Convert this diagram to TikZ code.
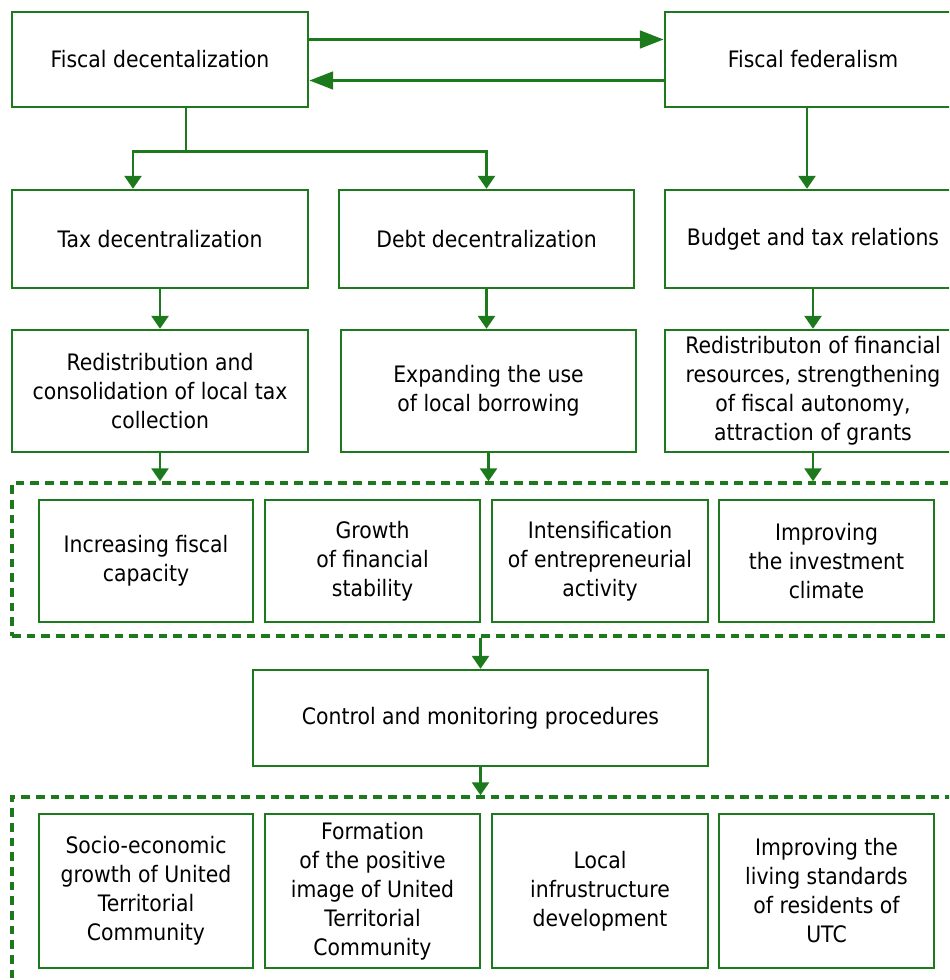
\documentclass[tikz,border=0pt]{standalone}
\usepackage{fontspec}
\setmainfont{DejaVu Sans}[FakeStretch=0.9]
\usetikzlibrary{arrows.meta,calc}
\definecolor{gr}{RGB}{28,122,28}
\tikzset{
 box/.style={draw=gr, line width=1.8pt, fill=white, align=center, inner sep=0pt, font=\fontsize{17}{21.75}\selectfont, text=black},
 dbox/.style={draw=gr, line width=2.6pt, dash pattern=on 6.5pt off 4.5pt, inner sep=0pt},
 ln/.style={draw=gr, line width=2.1pt},
 arr/.style={ln, -{Triangle[length=9.75pt,width=12.75pt]}},
 harr/.style={draw=gr, line width=2.8pt, -{Triangle[length=18pt,width=13pt]}},
}
\newcommand{\bx}[7][box]{\node[#1, minimum width={(#5-#3)*0.75pt}, minimum height={(#6-#4)*0.75pt}] (#2) at ({(#3+#5)/2},{(#4+#6)/2}) {#7};}
\begin{document}
\begin{tikzpicture}[x=0.75pt,y=-0.75pt]
\useasboundingbox (0,0) rectangle (949,980);
\clip (0,0) rectangle (949,980);
% top row
\bx{fd}{12}{12}{308}{107}{Fiscal decentalization}
\bx{ff}{665}{12}{961}{107}{Fiscal federalism}
% second row
\bx{td}{12}{190}{308}{288}{Tax decentralization}
\bx{dd}{339}{190}{634}{288}{Debt decentralization}
\bx{bt}{665}{190}{961}{288}{Budget and tax relations}
% third row
\bx{ra}{12}{330}{308}{452}{Redistribution and\\consolidation of local tax\\collection}
\bx{rb}{341}{330}{636}{452}{Expanding the use\\of local borrowing}
\bx{rc}{665}{330}{961}{452}{Redistributon of financial\\resources, strengthening\\of fiscal autonomy,\\attraction of grants}
% dashed group 1
\bx[dbox]{da}{12}{483}{961}{636}{}
\bx{ea}{39}{500}{253}{622}{Increasing fiscal\\capacity}
\bx{eb}{265}{500}{480}{622}{Growth\\of financial\\stability}
\bx{ec}{492}{500}{708}{622}{Intensification\\of entrepreneurial\\activity}
\bx{ed}{719}{500}{934}{622}{Improving\\the investment\\climate}
% control
\bx{ct}{253}{670}{708}{766}{Control and monitoring procedures}
% dashed group 2
\bx[dbox]{db}{12}{797}{961}{985}{}
\bx{fa}{39}{814}{253}{968}{Socio-economic\\growth of United\\Territorial\\Community}
\bx{fb}{265}{814}{480}{968}{Formation\\of the positive\\image of United\\Territorial\\Community}
\bx{fc}{492}{814}{708}{968}{Local\\infrustructure\\development}
\bx{fe}{719}{814}{934}{968}{Improving the\\living standards\\of residents of\\UTC}
% connectors
\draw[harr] ([yshift=15pt]fd.east) -- ([yshift=15pt]ff.west);
\draw[harr] ([yshift=-15.75pt]ff.west) -- ([yshift=-15.75pt]fd.east);
\draw[ln] ([xshift=19.5pt]fd.south) -- ++(0,43) coordinate (j);
\draw[arr] (j) -| ([xshift=-20.25pt]td.north);
\draw[arr] (j) -| (dd.north);
\draw[arr] ([xshift=-4.5pt]ff.south) -- ([xshift=-4.5pt]bt.north);
\draw[arr] (td.south) -- (td.south |- ra.north);
\draw[arr] (dd.south) -- (dd.south |- rb.north);
\draw[arr] (bt.south) -- (bt.south |- rc.north);
\draw[arr] (ra.south) -- (ra.south |- da.north);
\draw[arr] (rb.south) -- (rb.south |- da.north);
\draw[arr] (rc.south) -- (rc.south |- da.north);
\draw[arr] (da.south -| ct.north) -- (ct.north);
\draw[arr] (ct.south) -- (ct.south |- db.north);
\end{tikzpicture}
\end{document}
